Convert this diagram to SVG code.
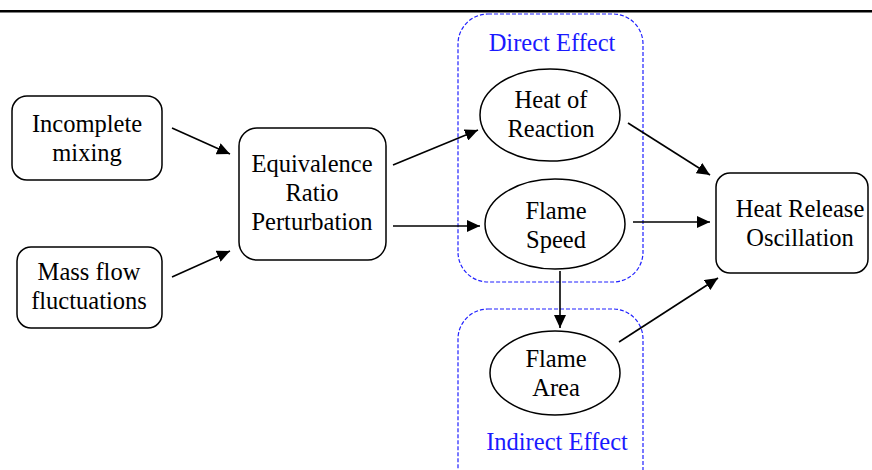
<svg xmlns="http://www.w3.org/2000/svg" width="872" height="470" viewBox="0 0 872 470">
<style>
.box{fill:#fff;stroke:#000;stroke-width:1.5}
.grp{fill:none;stroke:#2020ff;stroke-width:1.2;stroke-dasharray:4,2}
text{font-family:"Liberation Serif","Times New Roman",serif;font-size:24.5px;fill:#000;text-anchor:middle}
.blue{fill:#1a1aff}
.c{stroke:#000;stroke-width:1.6;fill:none;marker-end:url(#ah)}
</style>
<defs>
<marker id="ah" viewBox="0 0 13 12" refX="13" refY="6" markerWidth="13" markerHeight="12" markerUnits="userSpaceOnUse" orient="auto">
<path d="M0,0 L13,6 L0,12 Z" fill="#000"/>
</marker>
</defs>
<rect x="0" y="10" width="872" height="2.5" fill="#000"/>
<g id="direct-effect">
<rect class="grp" x="458" y="14" width="185" height="268" rx="30"/>
<text class="blue" x="552" y="51">Direct Effect</text>
</g>
<g id="indirect-effect">
<rect class="grp" x="458" y="309" width="185" height="190" rx="30"/>
<text class="blue" x="557" y="450">Indirect Effect</text>
</g>
<g id="incomplete-mixing">
<rect class="box" x="12" y="96" width="150" height="84" rx="15"/>
<text x="87" y="132">Incomplete</text>
<text x="87" y="161">mixing</text>
</g>
<g id="mass-flow">
<rect class="box" x="17" y="247" width="145" height="81" rx="14"/>
<text x="89" y="280">Mass flow</text>
<text x="89" y="309">fluctuations</text>
</g>
<g id="erp">
<rect class="box" x="239" y="128" width="147" height="132" rx="18"/>
<text x="312" y="172">Equivalence</text>
<text x="312" y="201">Ratio</text>
<text x="312" y="230">Perturbation</text>
</g>
<g id="heat-of-reaction">
<ellipse class="box" cx="550" cy="115" rx="70" ry="46"/>
<text x="551" y="108">Heat of</text>
<text x="551" y="137">Reaction</text>
</g>
<g id="flame-speed">
<ellipse class="box" cx="555" cy="224" rx="70" ry="45"/>
<text x="556" y="219">Flame</text>
<text x="556" y="248">Speed</text>
</g>
<g id="flame-area">
<ellipse class="box" cx="555" cy="373" rx="65" ry="42"/>
<text x="556" y="367">Flame</text>
<text x="556" y="396">Area</text>
</g>
<g id="hro">
<rect class="box" x="716" y="173" width="152" height="100" rx="14"/>
<text x="800" y="217">Heat Release</text>
<text x="800" y="246">Oscillation</text>
</g>
<g id="connectors">
<line class="c" x1="172" y1="128" x2="230" y2="154"/>
<line class="c" x1="172" y1="277" x2="230" y2="251"/>
<line class="c" x1="393" y1="165" x2="478" y2="130"/>
<line class="c" x1="393" y1="226" x2="480" y2="226"/>
<line class="c" x1="628" y1="123" x2="710" y2="175"/>
<line class="c" x1="633" y1="222" x2="710" y2="222"/>
<line class="c" x1="619" y1="342" x2="718" y2="278"/>
<line class="c" x1="560" y1="271" x2="560" y2="328"/>
</g>
</svg>
